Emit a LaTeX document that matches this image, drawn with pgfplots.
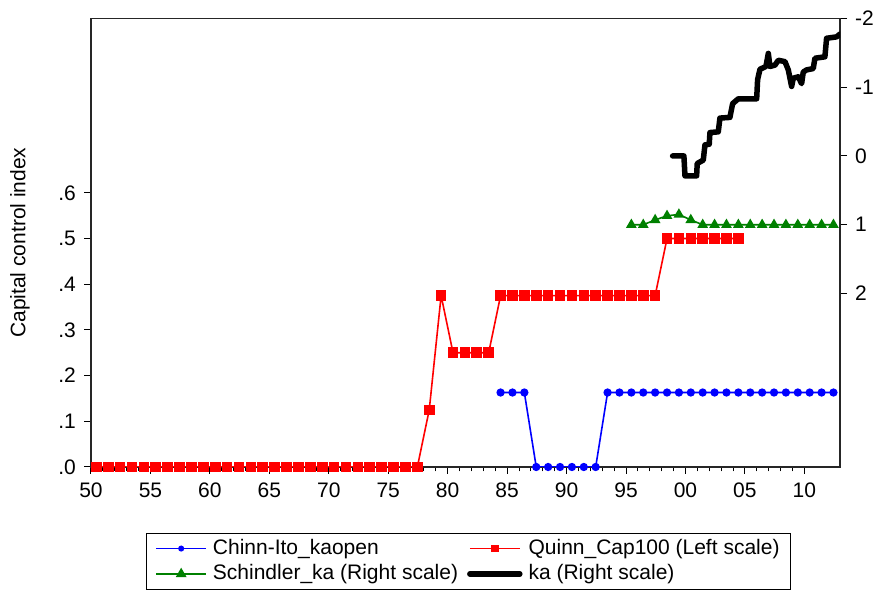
\documentclass[border=0pt]{standalone}
\usepackage{pgfplots}
\pgfplotsset{compat=1.18}
\usepackage{fontspec}
\setmainfont{Liberation Sans}
\definecolor{egreen}{RGB}{0,128,0}
\begin{document}
\fontsize{21}{25}\selectfont
\begin{tikzpicture}
\path[use as bounding box] (0,0) rectangle (873pt,591pt);
\begin{axis}[
  at={(91pt,124pt)}, anchor=south west,
  scale only axis, width=749pt, height=448.7pt,
  xmin=1950, xmax=2013, ymin=0, ymax=0.982,
  axis line style={line width=1.2pt, black!85},
  /pgf/number format/assume math mode=true,
  tick label style={font=\fontsize{21}{25}\selectfont},
  xtick={1950,1955,1960,1965,1970,1975,1980,1985,1990,1995,2000,2005,2010},
  xticklabels={50,55,60,65,70,75,80,85,90,95,00,05,10},
  minor x tick num=4,
  ytick={0,0.1,0.2,0.3,0.4,0.5,0.6},
  yticklabels={.0,.1,.2,.3,.4,.5,.6},
  xtick pos=bottom, ytick pos=left,
  tick align=outside,
  major tick length=7pt, minor tick length=4.5pt,
  tick style={line width=1pt, black},
  xticklabel style={yshift=-2pt},
  yticklabel style={xshift=-1pt},
  ylabel={Capital control index},
  ylabel style={at={(axis description cs:-0.0948,0.5)}, anchor=center, font=\fontsize{21}{25}\selectfont},
  clip=true,
]
\addplot+[blue, line width=1.6pt, mark=*, mark size=3.3pt, mark options={solid, fill=blue, draw=blue}, x filter/.expression={x+0.45}] coordinates {
(1984,0.163)(1985,0.163)(1986,0.163)(1987,0)(1988,0)(1989,0)(1990,0)(1991,0)(1992,0)
(1993,0.163)(1994,0.163)(1995,0.163)(1996,0.163)(1997,0.163)(1998,0.163)(1999,0.163)(2000,0.163)
(2001,0.163)(2002,0.163)(2003,0.163)(2004,0.163)(2005,0.163)(2006,0.163)(2007,0.163)(2008,0.163)
(2009,0.163)(2010,0.163)(2011,0.163)(2012,0.163)};
\addplot+[red, line width=1.6pt, mark=square*, mark size=4.5pt, mark options={solid, fill=red, draw=red}, x filter/.expression={x+0.45}] coordinates {
(1950,0)(1951,0)(1952,0)(1953,0)(1954,0)(1955,0)(1956,0)(1957,0)(1958,0)(1959,0)
(1960,0)(1961,0)(1962,0)(1963,0)(1964,0)(1965,0)(1966,0)(1967,0)(1968,0)(1969,0)
(1970,0)(1971,0)(1972,0)(1973,0)(1974,0)(1975,0)(1976,0)(1977,0)
(1978,0.125)(1979,0.375)(1980,0.25)(1981,0.25)(1982,0.25)(1983,0.25)
(1984,0.375)(1985,0.375)(1986,0.375)(1987,0.375)(1988,0.375)(1989,0.375)(1990,0.375)
(1991,0.375)(1992,0.375)(1993,0.375)(1994,0.375)(1995,0.375)(1996,0.375)(1997,0.375)
(1998,0.5)(1999,0.5)(2000,0.5)(2001,0.5)(2002,0.5)(2003,0.5)(2004,0.5)};
\end{axis}
\begin{axis}[
  at={(91pt,124pt)}, anchor=south west,
  scale only axis, width=749pt, height=448.7pt,
  xmin=1950, xmax=2013, ymin=-2, ymax=4.52,
  y dir=reverse,
  axis x line=none,
  axis y line*=right,
  axis line style={line width=1.2pt, black!85},
  /pgf/number format/assume math mode=true,
  tick label style={font=\fontsize{21}{25}\selectfont},
  ytick={-2,-1,0,1,2},
  yticklabels={-2,-1,0,1,2},
  tick align=outside,
  major tick length=7pt,
  tick style={line width=1pt, black},
  yticklabel style={xshift=1pt},
  legend columns=2,
  legend style={at={(axis description cs:0.0734,-0.147)}, anchor=north west,
    draw=black, line width=0.8pt, font=\fontsize{21}{25}\selectfont,
    inner xsep=9pt, inner ysep=4pt, row sep=3pt,
    /tikz/every odd column/.append style={column sep=4pt},
    /tikz/every even column/.append style={column sep=7pt}},
  legend cell align=left,
  legend image code/.code={\draw[mark repeat=2, mark phase=2] plot coordinates {(0pt,0pt) (25pt,0pt) (50pt,0pt)};},
  clip=true,
]
\addlegendimage{blue, line width=1.6pt, mark=*, mark size=2.2pt, mark options={solid, fill=blue}}
\addlegendentry{Chinn-Ito\_kaopen}
\addlegendimage{red, line width=1.6pt, mark=square*, mark size=3pt, mark options={solid, fill=red}}
\addlegendentry{Quinn\_Cap100 (Left scale)}
\addplot+[egreen, line width=1.6pt, mark=triangle*, mark size=4.6pt, mark options={solid, fill=egreen, draw=egreen}, x filter/.expression={x+0.45}] coordinates {
(1995,1)(1996,1)(1997,0.93)(1998,0.87)(1999,0.85)(2000,0.93)(2001,1)(2002,1)(2003,1)
(2004,1)(2005,1)(2006,1)(2007,1)(2008,1)(2009,1)(2010,1)(2011,1)(2012,1)};
\addlegendentry{Schindler\_ka (Right scale)}
\addplot[black, line width=5.5pt, line join=round, line cap=round] coordinates {
(1998.92,0.00)(1999.87,0.00)(1999.96,0.29)(2000.94,0.29)(2000.99,0.11)(2001.50,0.06)
(2001.64,-0.16)(2002.00,-0.17)(2002.06,-0.34)(2002.76,-0.35)(2002.90,-0.55)(2003.74,-0.56)
(2003.97,-0.76)(2004.44,-0.83)(2005.99,-0.83)(2006.07,-1.11)(2006.27,-1.26)(2006.77,-1.30)
(2006.97,-1.49)(2007.11,-1.30)(2007.53,-1.32)(2007.81,-1.39)(2008.37,-1.37)(2008.65,-1.25)
(2008.93,-1.01)(2009.07,-1.13)(2009.49,-1.15)(2009.77,-1.05)(2009.91,-1.22)(2010.19,-1.25)
(2010.75,-1.27)(2010.89,-1.42)(2011.73,-1.44)(2011.87,-1.71)(2012.71,-1.73)(2012.99,-1.77)};
\addlegendentry{ka (Right scale)}
\end{axis}
\end{tikzpicture}
\end{document}
